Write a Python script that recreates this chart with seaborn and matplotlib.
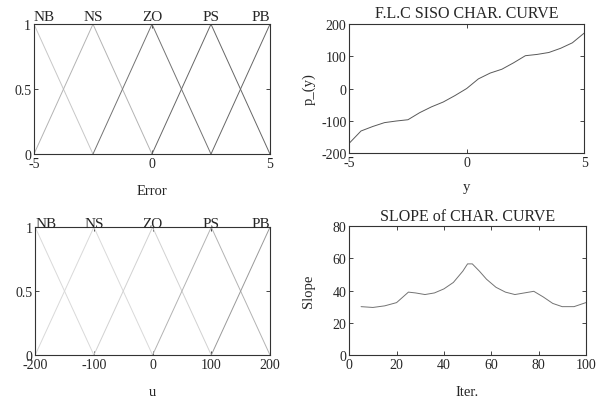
import numpy as np
import pandas as pd
import seaborn as sns
import matplotlib.pyplot as plt

# membership sets (triangular, peaks at the centres)
set_names = ["NB", "NS", "ZO", "PS", "PB"]
error_centers = [-5, -2.5, 0, 2.5, 5]
error_halfwidth = 2.5
u_centers = [-200, -100, 0, 100, 200]
u_halfwidth = 100

# characteristic curve
char_y = [-5, -4.5, -4, -3.5, -3, -2.5, -2, -1.5, -1, -0.5, 0, 0.5, 1, 1.5, 2, 2.5, 3, 3.5, 4, 4.5, 5]
char_p = [-170, -132, -118, -106, -101, -97, -75, -57, -42, -22, 0, 30, 48, 60, 80, 102, 106, 112, 125, 142, 172]

# slope of the characteristic curve
slope_iter = [5, 10, 15, 20, 25, 28, 32, 36, 40, 44, 48, 50, 52, 55, 58, 62, 66, 70, 74, 78, 82, 86, 90, 95, 100]
slope_val = [30, 29.5, 30.5, 32.5, 39, 38.5, 37.5, 38.5, 41, 45, 52, 56.5, 56.5, 52, 47, 42, 39, 37.5, 38.5, 39.5, 36, 32, 30, 30, 32.5]

sns.set_style("ticks")
plt.rcParams['font.family'] = ['Liberation Serif', 'DejaVu Serif']
plt.rcParams['axes.unicode_minus'] = False

fig = plt.figure(figsize=(5.96, 4.06), dpi=100)
ax1 = fig.add_axes([0.057, 0.618, 0.396, 0.320])
ax2 = fig.add_axes([0.586, 0.621, 0.394, 0.317])
ax3 = fig.add_axes([0.059, 0.123, 0.394, 0.315])
ax4 = fig.add_axes([0.586, 0.123, 0.397, 0.318])


def style(ax):
    for s in ax.spines.values():
        s.set_visible(True)
        s.set_linewidth(0.8)
        s.set_color('0.2')
    ax.tick_params(direction='in', length=3, width=0.6, top=True, right=True, pad=2, labelsize=10)


def draw_sets(ax, centers, hw, colors, label_y):
    for name, c, col in zip(set_names, centers, colors):
        sns.lineplot(x=[c - hw, c, c + hw], y=[0, 1, 0], sort=False, estimator=None,
                     color=col, lw=0.7, ax=ax)
        ha = 'left' if c == centers[0] else ('right' if c == centers[-1] else 'center')
        ax.text(c, label_y, name, ha=ha, va='baseline', fontsize=11)
    ax.set_xlim(centers[0], centers[-1])
    ax.set_ylim(0, 1)
    ax.set_yticks([0, 0.5, 1])
    ax.set_yticklabels(["0", "0.5", "1"])


draw_sets(ax1, error_centers, error_halfwidth, ['0.78', '0.7', '0.45', '0.4', '0.4'], 1.03)
ax1.set_xticks([-5, 0, 5])
ax1.set_xlabel("Error", fontsize=10.5, labelpad=10)
style(ax1)

draw_sets(ax3, u_centers, u_halfwidth, ['0.85', '0.85', '0.82', '0.7', '0.6'], 1.005)
ax3.set_xticks([-200, -100, 0, 100, 200])
ax3.set_xlabel("u", fontsize=10.5, labelpad=10)
style(ax3)

df_char = pd.DataFrame({"y": char_y, "p": char_p})
sns.lineplot(data=df_char, x="y", y="p", color='0.35', lw=0.7, ax=ax2)
ax2.set_xlim(-5, 5)
ax2.set_ylim(-200, 200)
ax2.set_xticks([-5, 0, 5])
ax2.set_yticks([-200, -100, 0, 100, 200])
ax2.set_xlabel("y", fontsize=10.5, labelpad=8)
ax2.set_ylabel("p_(y)", fontsize=10.5, labelpad=4)
ax2.set_title("F.L.C SISO CHAR. CURVE", fontsize=11.5, pad=5)
style(ax2)

df_slope = pd.DataFrame({"iter": slope_iter, "slope": slope_val})
sns.lineplot(data=df_slope, x="iter", y="slope", color='0.45', lw=0.7, ax=ax4)
ax4.set_xlim(0, 100)
ax4.set_ylim(0, 80)
ax4.set_xticks([0, 20, 40, 60, 80, 100])
ax4.set_yticks([0, 20, 40, 60, 80])
ax4.set_xlabel("Iter.", fontsize=10.5, labelpad=10)
ax4.set_ylabel("Slope", fontsize=10.5, labelpad=13)
ax4.set_title("SLOPE of CHAR. CURVE", fontsize=11.5, pad=4)
style(ax4)

fig.savefig("out.png", dpi=100)
